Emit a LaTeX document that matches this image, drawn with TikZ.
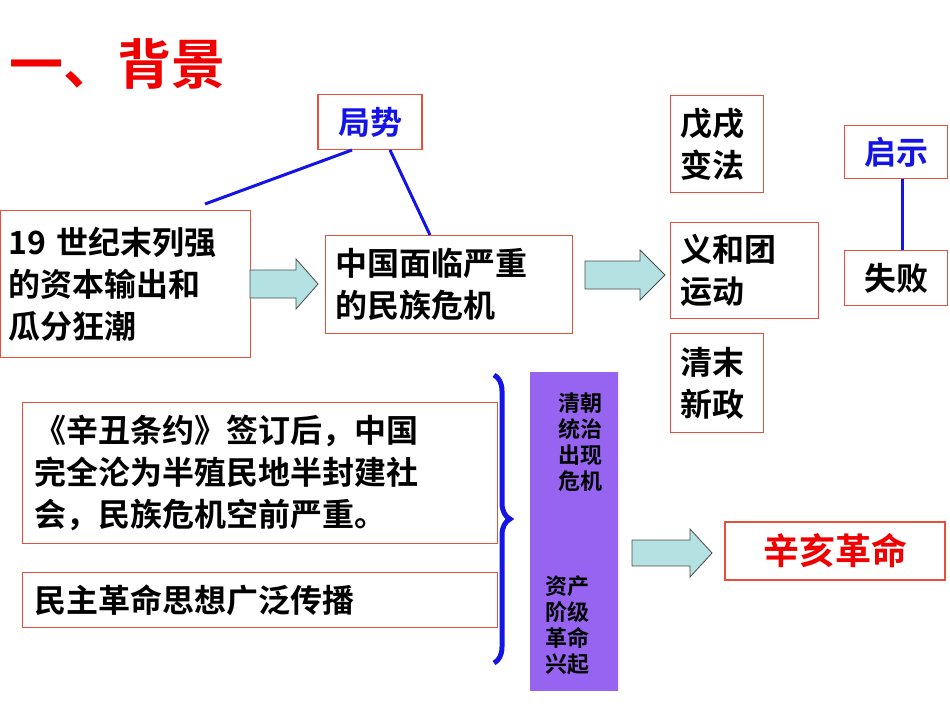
\documentclass[tikz,border=0pt]{standalone}
\usepackage{fontspec}
\setmainfont{Noto Sans CJK SC}[BoldFont={Noto Sans CJK SC Bold}]
\usetikzlibrary{decorations.pathreplacing}
\definecolor{bred}{RGB}{230,80,60}
\definecolor{tred}{RGB}{240,0,0}
\definecolor{tblue}{RGB}{20,20,230}
\definecolor{teal}{RGB}{180,225,225}
\definecolor{purp}{RGB}{150,100,240}
\tikzset{
 bx/.style={draw=bred,line width=1.1pt,inner sep=0pt,align=left,font=\fontsize{32}{42}\selectfont\bfseries},
 fat/.style={draw=black!70,fill=teal,line width=0.8pt,line join=miter},
 bl/.style={tblue,line width=3pt}
}
\newcommand\fatarr[5]{% x1 xhead xtip ycenter halfshaft ; head half = halfshaft+11
 \draw[fat] (#1,#4-#5) -- (#2,#4-#5) -- (#2,#4-#5-11) -- (#3,#4) -- (#2,#4+#5+11) -- (#2,#4+#5) -- (#1,#4+#5) -- cycle;}
\begin{document}
\begin{tikzpicture}[x=1pt,y=-1pt]
\useasboundingbox (0,0) rectangle (950,713);
\node[tred,font=\fontsize{54}{54}\selectfont\bfseries,anchor=west] (title) at (6,64) {一、背景};
\node[bx,minimum width=104pt,minimum height=55pt,text=tblue,align=center] (js) at (370,122) {局势};
\node[bx,anchor=north west,minimum width=250pt,minimum height=147pt,text width=246pt] (b1) at (0,210) {\hspace*{6pt}19 世纪末列强\\\hspace*{6pt}的资本输出和\\\hspace*{6pt}瓜分狂潮};
\node[bx,anchor=north west,minimum width=247pt,minimum height=98pt,text width=243pt] (b2) at (325,235) {\hspace*{8pt}中国面临严重\\\hspace*{8pt}的民族危机};
\coordinate (l1) at (205,204); \coordinate (l2) at (430,235);
\draw[bl] (l1) -- (352,150);
\draw[bl] (390,150) -- (l2);
\fatarr{250}{296}{318}{284}{14}
\fatarr{585}{640}{665}{275}{14}
\fatarr{632}{690}{712}{553}{13}
\node[bx,anchor=north west,minimum width=93pt,minimum height=97pt,text width=90pt] (w1) at (670,95) {\hspace*{8pt}戊戌\\\hspace*{8pt}变法};
\node[bx,anchor=north west,minimum width=148pt,minimum height=96pt,text width=145pt] (w2) at (670,222) {\hspace*{8pt}义和团\\\hspace*{8pt}运动};
\node[bx,anchor=north west,minimum width=93pt,minimum height=99pt,text width=90pt] (w3) at (670,333) {\hspace*{8pt}清末\\\hspace*{8pt}新政};
\node[bx,minimum width=103pt,minimum height=53pt,text=tblue,align=center] (qs) at (896,152) {启示};
\node[bx,minimum width=103pt,minimum height=55pt,align=center] (sb) at (896,278) {失败};
\draw[bl] (qs.south -| 902,0) -- (sb.north -| 902,0);
\node[bx,anchor=north west,minimum width=475pt,minimum height=141pt,text width=472pt] (c1) at (22,402) {\hspace*{10pt}《辛丑条约》签订后，中国\\\hspace*{10pt}完全沦为半殖民地半封建社\\\hspace*{10pt}会，民族危机空前严重。};
\node[bx,anchor=north west,minimum width=475pt,minimum height=55pt,text width=472pt] (c2) at (22,572) {\hspace*{10pt}民主革命思想广泛传播};
\coordinate (br1) at (494,375); \coordinate (br2) at (494,663);
\draw[bl,line width=5pt,decorate,decoration={brace,amplitude=16pt}] (br1) -- (br2);
\shade[shading=axis,top color=purp,middle color=white,bottom color=purp,shading angle=30] (530,372) rectangle (618,690);
\node[font=\fontsize{22}{26}\selectfont\bfseries,align=center] (t1) at (580,442) {清朝\\统治\\出现\\危机};
\node[font=\fontsize{22}{26}\selectfont\bfseries,align=center] (t2) at (567,625) {资产\\阶级\\革命\\兴起};
\node[bx,minimum width=220pt,minimum height=58pt,text=tred,align=center,font=\fontsize{36}{40}\selectfont\bfseries] (xh) at (835,551) {辛亥革命};
\end{tikzpicture}
\end{document}
